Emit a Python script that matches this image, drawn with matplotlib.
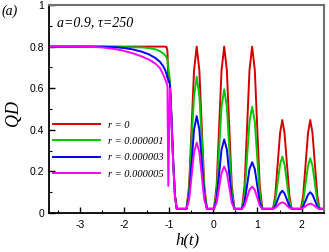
import matplotlib
matplotlib.use("Agg")
import matplotlib.pyplot as plt
from matplotlib.ticker import MultipleLocator, FixedLocator

plt.rcParams['axes.unicode_minus'] = False
plt.rcParams['font.family'] = ['Liberation Sans', 'DejaVu Sans']

# plateau part, h < -1
h_head = [-3.7, -3.2, -2.8, -2.5, -2.2, -2.0, -1.8, -1.6, -1.45, -1.3, -1.2, -1.13, -1.08, -1.05, -1.03]
qd_head_r0 = [0.8, 0.8, 0.8, 0.8, 0.8, 0.8, 0.8, 0.8, 0.8, 0.8, 0.8, 0.8, 0.8, 0.798, 0.78]
qd_head_r1 = [0.8, 0.8, 0.8, 0.8, 0.799, 0.798, 0.797, 0.796, 0.793, 0.787, 0.778, 0.768, 0.758, 0.748, 0.735]
qd_head_r3 = [0.8, 0.8, 0.8, 0.799, 0.797, 0.793, 0.786, 0.775, 0.763, 0.745, 0.727, 0.707, 0.687, 0.668, 0.65]
qd_head_r5 = [0.8, 0.8, 0.799, 0.796, 0.788, 0.779, 0.767, 0.752, 0.738, 0.718, 0.697, 0.668, 0.643, 0.625, 0.61]

# oscillating part, h > -1
h_tail = [-1.01, -0.975, -0.94, -0.90, -0.86, -0.82,
          -0.60, -0.54, -0.485, -0.43, -0.37, -0.31, -0.255, -0.20, -0.14,
          0.02, 0.08, 0.135, 0.19, 0.25, 0.31, 0.365, 0.42, 0.48,
          0.65, 0.71, 0.765, 0.82, 0.88, 0.94, 0.995, 1.05, 1.11,
          1.35, 1.40, 1.455, 1.51, 1.56, 1.61, 1.665, 1.72, 1.77,
          1.98, 2.03, 2.085, 2.14, 2.19, 2.24, 2.295, 2.35, 2.40,
          2.5]
qd_tail_r0 = [0.63, 0.63, 0.465, 0.248, 0.082, 0.02,
              0.02, 0.134, 0.41, 0.686, 0.80, 0.686, 0.41, 0.134, 0.02,
              0.02, 0.134, 0.41, 0.686, 0.80, 0.686, 0.41, 0.134, 0.02,
              0.02, 0.134, 0.41, 0.686, 0.80, 0.686, 0.41, 0.134, 0.02,
              0.02, 0.082, 0.234, 0.385, 0.447, 0.385, 0.234, 0.082, 0.02,
              0.02, 0.082, 0.234, 0.385, 0.447, 0.385, 0.234, 0.082, 0.02,
              0.02]
qd_tail_r1 = [0.70, 0.64, 0.465, 0.248, 0.082, 0.02,
              0.02, 0.113, 0.358, 0.562, 0.655, 0.562, 0.358, 0.113, 0.02,
              0.02, 0.104, 0.308, 0.511, 0.595, 0.511, 0.308, 0.104, 0.02,
              0.02, 0.092, 0.266, 0.439, 0.511, 0.439, 0.266, 0.092, 0.02,
              0.02, 0.057, 0.146, 0.234, 0.271, 0.234, 0.146, 0.057, 0.02,
              0.02, 0.055, 0.142, 0.228, 0.263, 0.228, 0.142, 0.055, 0.02,
              0.02]
qd_tail_r3 = [0.645, 0.62, 0.465, 0.248, 0.082, 0.02,
              0.02, 0.085, 0.243, 0.401, 0.466, 0.401, 0.243, 0.085, 0.02,
              0.02, 0.069, 0.187, 0.305, 0.354, 0.305, 0.187, 0.069, 0.02,
              0.02, 0.053, 0.132, 0.211, 0.244, 0.211, 0.132, 0.053, 0.02,
              0.02, 0.033, 0.064, 0.094, 0.107, 0.094, 0.064, 0.033, 0.02,
              0.02, 0.032, 0.060, 0.088, 0.100, 0.088, 0.060, 0.032, 0.02,
              0.02]
qd_tail_r5 = [0.13, 0.60, 0.45, 0.24, 0.08, 0.02,
              0.02, 0.066, 0.179, 0.292, 0.338, 0.292, 0.179, 0.066, 0.02,
              0.02, 0.050, 0.122, 0.193, 0.223, 0.193, 0.122, 0.050, 0.02,
              0.02, 0.036, 0.074, 0.111, 0.127, 0.111, 0.074, 0.036, 0.02,
              0.02, 0.025, 0.036, 0.047, 0.051, 0.047, 0.036, 0.025, 0.02,
              0.02, 0.024, 0.033, 0.041, 0.045, 0.041, 0.033, 0.024, 0.02,
              0.02]

labels = ['r = 0', 'r = 0.000001', 'r = 0.000003', 'r = 0.000005']
colors = ['#d40000', '#00c800', '#0000ff', '#ff00ff']
heads = [qd_head_r0, qd_head_r1, qd_head_r3, qd_head_r5]
tails = [qd_tail_r0, qd_tail_r1, qd_tail_r3, qd_tail_r5]

fig = plt.figure(figsize=(3.29, 2.52), dpi=100)
ax = fig.add_axes([49/329, 1-213/252, 275/329, 208/252])

for lab, c, hd, tl in zip(labels, colors, heads, tails):
    ax.plot(h_head + h_tail, hd + tl, color=c, lw=1.4, label=lab)

ax.set_xlim(-3.7, 2.5)
ax.set_ylim(0, 1)
ax.xaxis.set_major_locator(FixedLocator([-3, -2, -1, 0, 1, 2]))
ax.set_xticklabels(['-3', '-2', '-1', '0', '1', '2'])
ax.xaxis.set_minor_locator(MultipleLocator(0.5))
ax.yaxis.set_major_locator(FixedLocator([0, 0.2, 0.4, 0.6, 0.8, 1]))
ax.set_yticklabels(['0', '0.2', '0.4', '0.6', '0.8', '1'])
ax.yaxis.set_minor_locator(MultipleLocator(0.1))
ax.tick_params(which='both', direction='in', labelsize=7.5, top=False, right=False)
ax.tick_params(which='major', length=4, width=1)
ax.tick_params(which='minor', length=2, width=0.8)
ax.tick_params(axis='x', pad=5)

for s in ['left', 'bottom']:
    ax.spines[s].set_linewidth(1.3)
    ax.spines[s].set_color('black')
for s in ['top', 'right']:
    ax.spines[s].set_linewidth(1.5)
    ax.spines[s].set_color('#707070')

serif = ['Liberation Serif', 'DejaVu Serif']
fig.text(14/329, 1-113/252, 'QD', rotation=90, ha='center', va='center',
         fontsize=13, family=serif, style='italic')
fig.text(187/329, 1-240/252, 'h(t)', ha='center', va='center',
         fontsize=12, family=serif, style='italic')
fig.text(2/329, 1-11/252, '(a)', ha='left', va='center',
         fontsize=10, family=serif, style='italic')
ax.text(-3.52, 0.915, 'a=0.9, τ=250', ha='left', va='center',
        fontsize=10, family=serif, style='italic')

leg = ax.legend(loc='upper left', bbox_to_anchor=(0.0145, 0.445), frameon=False,
                borderaxespad=0, borderpad=0, handlelength=4.5, handletextpad=0.8,
                labelspacing=0.68, prop={'family': serif, 'style': 'italic', 'size': 7.5})

fig.savefig('out.png', dpi=100)
